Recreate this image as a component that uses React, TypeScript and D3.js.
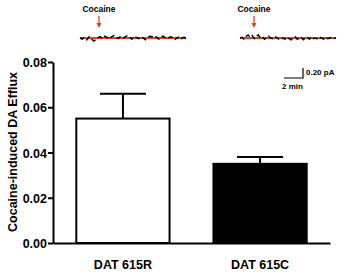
import { useEffect, useRef } from "react";
import { select, scaleBand, scaleLinear, axisLeft, axisBottom, line, format } from "d3";

// bar chart values
const groups = ["DAT 615R", "DAT 615C"];
const means = [0.055, 0.035];
const sems = [0.011, 0.003];
const fills = ["#ffffff", "#000000"];
const yTicks = [0, 0.02, 0.04, 0.06, 0.08];

// example amperometric traces (pA, relative to baseline)
const trace615R = [
  0.0, -0.02, 0.01, -0.03, 0.02, -0.01, -0.05, -0.03, 0.01, 0.02, -0.01, 0.03,
  0.01, -0.02, 0.02, 0.04, 0.01, -0.01, 0.03, 0.0, 0.02, 0.04, 0.01, -0.02,
  0.03, 0.01, -0.01, 0.02, 0.0, -0.03, 0.01, 0.03, 0.02, 0.04, 0.01, -0.02,
  0.02, 0.03, 0.0, -0.01, 0.02, 0.01, -0.03, 0.0, 0.02, -0.01, 0.01, 0.0,
];
const trace615C = [
  0.0, 0.01, -0.02, 0.03, 0.05, 0.01, 0.04, -0.01, 0.03, 0.05, 0.0, 0.02,
  -0.02, 0.01, 0.03, 0.0, -0.01, 0.02, 0.01, -0.02, -0.03, 0.0, -0.02, 0.01,
  -0.01, -0.03, 0.0, 0.02, -0.02, -0.01, 0.01, -0.03, 0.0, 0.01, -0.02, 0.02,
  -0.01, 0.0, -0.02, 0.01, 0.0, -0.02, 0.01, -0.01, 0.0, 0.01, -0.01, 0.0,
];
const injectionLabel = "Cocaine";

const FONT = "'Liberation Sans', Arial, sans-serif";
const RED = "#e8401c";

const App: React.FC = () => {
  const svgRef = useRef<SVGSVGElement>(null);

  useEffect(() => {
    document.body.style.margin = "0";
    const svg = select(svgRef.current);
    svg.selectAll("*").remove();

    const x = scaleBand<string>()
      .domain(groups)
      .range([53, 330])
      .paddingInner(0.32)
      .paddingOuter(0.17);
    const y = scaleLinear().domain([0, 0.08]).range([243, 62]);

    const chart = svg.append("g");

    // bars
    chart
      .selectAll(".bar")
      .data(groups)
      .join("rect")
      .attr("class", "bar")
      .attr("x", (d) => x(d)!)
      .attr("y", (d, i) => y(means[i]))
      .attr("width", x.bandwidth())
      .attr("height", (d, i) => y(0) - y(means[i]))
      .attr("fill", (d, i) => fills[i])
      .attr("stroke", "#000")
      .attr("stroke-width", 2);

    // upward error bars
    const capHalf = 23;
    groups.forEach((g, i) => {
      const cx = x(g)! + x.bandwidth() / 2;
      const top = y(means[i] + sems[i]);
      chart
        .append("line")
        .attr("x1", cx)
        .attr("x2", cx)
        .attr("y1", y(means[i]))
        .attr("y2", top)
        .attr("stroke", "#000")
        .attr("stroke-width", 2);
      chart
        .append("line")
        .attr("x1", cx - capHalf)
        .attr("x2", cx + capHalf)
        .attr("y1", top)
        .attr("y2", top)
        .attr("stroke", "#000")
        .attr("stroke-width", 2);
    });

    // axes
    const yAxis = axisLeft(y)
      .tickValues(yTicks)
      .tickFormat(format(".2f") as any)
      .tickSize(5)
      .tickSizeOuter(0);
    const gy = chart.append("g").attr("transform", "translate(53,0)").call(yAxis);
    const xAxis = axisBottom(x).tickSize(0).tickSizeOuter(0);
    const gx = chart.append("g").attr("transform", "translate(0,243)").call(xAxis);

    [gy, gx].forEach((g) => {
      g.select(".domain").attr("stroke-width", 2);
      g.selectAll(".tick line").attr("stroke-width", 2);
      g.selectAll("text")
        .attr("font-family", FONT)
        .attr("font-weight", "bold")
        .attr("font-size", 12.5)
        .attr("fill", "#000");
    });
    gy.selectAll("text").attr("x", -6).attr("dy", "0.36em");
    gx.selectAll("text").attr("dy", "0").attr("y", 26);

    chart
      .append("text")
      .attr("transform", "translate(17,152) rotate(-90)")
      .attr("text-anchor", "middle")
      .attr("font-family", FONT)
      .attr("font-weight", "bold")
      .attr("font-size", 12.5)
      .text("Cocaine-induced DA Efflux");

    // traces
    const pxPerPA = 12 / 0.2;
    const drawTrace = (data: number[], x0: number, x1: number, arrowX: number) => {
      const tx = scaleLinear().domain([0, data.length - 1]).range([x0, x1]);
      const ty = scaleLinear().domain([0, 0.2]).range([38, 38 - 0.2 * pxPerPA]);
      const g = svg.append("g");
      g.append("line")
        .attr("x1", x0)
        .attr("x2", x1)
        .attr("y1", ty(0))
        .attr("y2", ty(0))
        .attr("stroke", RED)
        .attr("stroke-width", 1.8);
      g.append("path")
        .attr("d", line<number>().x((d, i) => tx(i)).y((d) => ty(d))(data) as string)
        .attr("fill", "none")
        .attr("stroke", "#000")
        .attr("stroke-width", 1.5)
        .attr("stroke-dasharray", "5,3");
      g.append("text")
        .attr("x", arrowX)
        .attr("y", 12)
        .attr("text-anchor", "middle")
        .attr("font-family", FONT)
        .attr("font-weight", "bold")
        .attr("font-size", 8.5)
        .text(injectionLabel);
      g.append("line")
        .attr("x1", arrowX)
        .attr("x2", arrowX)
        .attr("y1", 16)
        .attr("y2", 25)
        .attr("stroke", RED)
        .attr("stroke-width", 1.3);
      g.append("path")
        .attr("d", `M${arrowX - 2.5},23 L${arrowX + 2.5},23 L${arrowX},28 Z`)
        .attr("fill", RED);
    };
    drawTrace(trace615R, 80, 186, 99);
    drawTrace(trace615C, 240, 336, 254);

    // scale bar
    const sb = svg.append("g");
    sb.append("path")
      .attr("d", "M284,78 L303,78 L303,68")
      .attr("fill", "none")
      .attr("stroke", "#000")
      .attr("stroke-width", 1.2);
    sb.append("text")
      .attr("x", 306)
      .attr("y", 75)
      .attr("font-family", FONT)
      .attr("font-weight", "bold")
      .attr("font-size", 8)
      .text("0.20 pA");
    sb.append("text")
      .attr("x", 282)
      .attr("y", 89)
      .attr("font-family", FONT)
      .attr("font-weight", "bold")
      .attr("font-size", 8)
      .text("2 min");
  }, []);

  return <svg ref={svgRef} width={354} height={274} style={{ display: "block" }} />;
};

export default App;
